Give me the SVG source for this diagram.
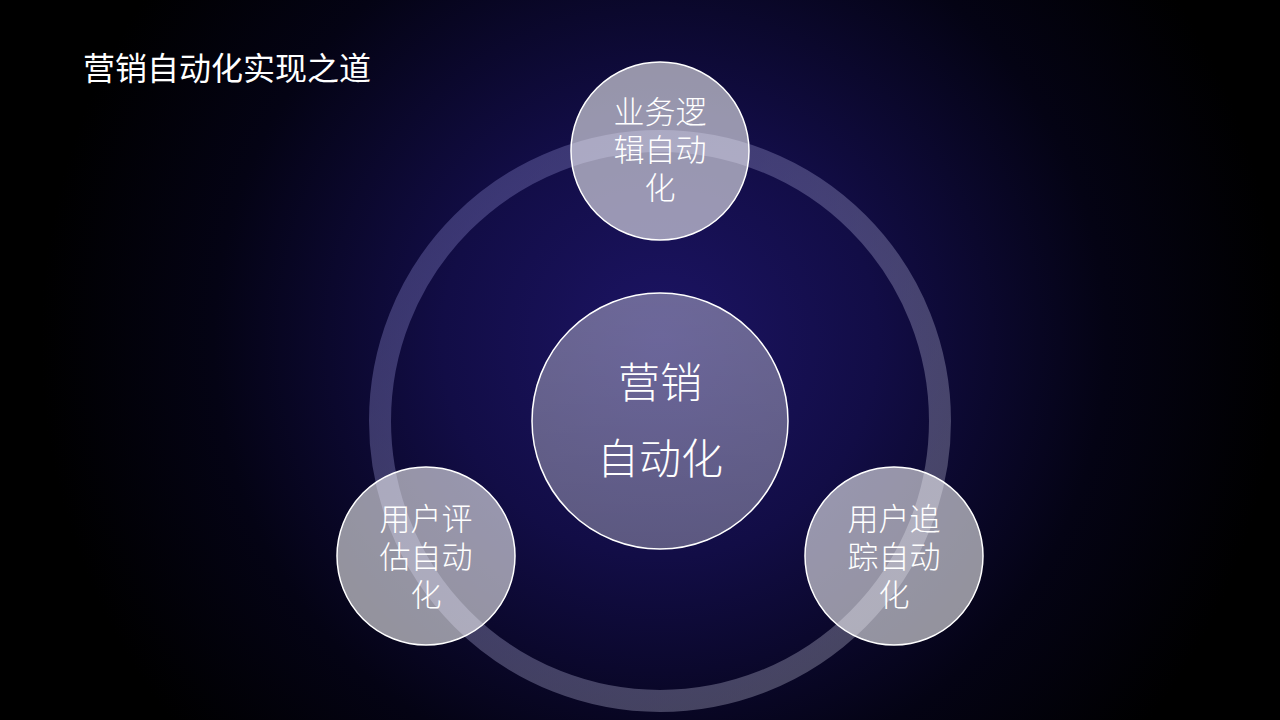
<svg xmlns="http://www.w3.org/2000/svg" width="1280" height="720" viewBox="0 0 1280 720">
<defs>
<radialGradient id="bg" cx="660" cy="340" r="620" gradientUnits="userSpaceOnUse">
<stop offset="0" stop-color="#1c1464"/>
<stop offset="0.35" stop-color="#120d46"/>
<stop offset="0.72" stop-color="#040314"/>
<stop offset="1" stop-color="#000000"/>
</radialGradient>
<linearGradient id="ring" x1="0" y1="0" x2="1" y2="1">
<stop offset="0" stop-color="#5a56a0" stop-opacity="0.5"/>
<stop offset="1" stop-color="#b8b8c8" stop-opacity="0.36"/>
</linearGradient>
<linearGradient id="core" x1="0" y1="0" x2="0" y2="1">
<stop offset="0" stop-color="#ffffff" stop-opacity="0.36"/>
<stop offset="1" stop-color="#ffffff" stop-opacity="0.31"/>
</linearGradient>
<style>
.t{font-family:"Noto Sans CJK SC","Noto Sans",sans-serif;font-weight:300;fill:#ffffff;text-anchor:middle}
.s{fill:#ffffff;fill-opacity:0.57;stroke:#ffffff;stroke-width:1.5}
</style>
</defs>
<rect width="1280" height="720" fill="url(#bg)"/>
<text x="83" y="80" font-family="Noto Sans CJK SC, sans-serif" font-size="32" fill="#ffffff" font-weight="400">营销自动化实现之道</text>
<g id="connectors">
<circle cx="660" cy="421" r="280" fill="none" stroke="url(#ring)" stroke-width="22"/>
</g>
<g id="center">
<circle cx="660" cy="421" r="128" fill="url(#core)" stroke="#ffffff" stroke-width="1.5"/>
<text class="t" x="660" y="398" font-size="42">营销</text>
<text class="t" x="660" y="474" font-size="42">自动化</text>
</g>
<g id="top">
<circle class="s" cx="660" cy="151" r="89"/>
<text class="t" x="660" y="123" font-size="31">业务逻</text>
<text class="t" x="660" y="161" font-size="31">辑自动</text>
<text class="t" x="660" y="199" font-size="31">化</text>
</g>
<g id="left">
<circle class="s" cx="426" cy="556" r="89"/>
<text class="t" x="426" y="530" font-size="31">用户评</text>
<text class="t" x="426" y="568" font-size="31">估自动</text>
<text class="t" x="426" y="606" font-size="31">化</text>
</g>
<g id="right">
<circle class="s" cx="894" cy="556" r="89"/>
<text class="t" x="894" y="530" font-size="31">用户追</text>
<text class="t" x="894" y="568" font-size="31">踪自动</text>
<text class="t" x="894" y="606" font-size="31">化</text>
</g>
</svg>
